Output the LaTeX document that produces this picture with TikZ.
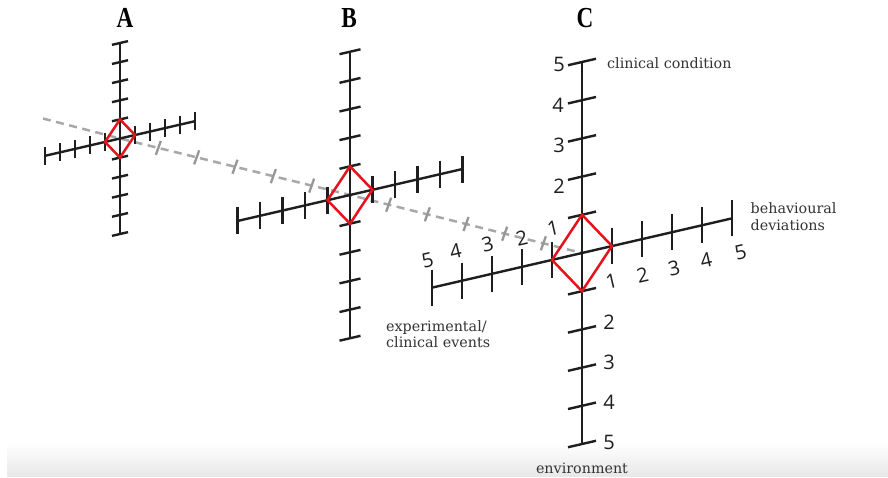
\documentclass[tikz,border=0pt]{standalone}
\usepackage{fontspec}
\usetikzlibrary{calc}
\newfontfamily\numfont{Open Sans}
\newfontfamily\headfont{Liberation Serif}
\newfontfamily\labfont{DejaVu Serif}
\definecolor{axisblack}{HTML}{1E1E1E}
\definecolor{diamondred}{HTML}{E3141B}
\definecolor{guidegray}{HTML}{A8A8A8}
\definecolor{labelgray}{HTML}{333333}
\begin{document}
\begin{tikzpicture}[x=1pt,y=-1pt,
  axisline/.style={draw=axisblack,line width=2.4pt},
  diamondline/.style={draw=diamondred,line width=2.5pt,line join=miter},
  guide/.style={draw=guidegray,line width=2.5pt,dash pattern=on 8pt off 5.5pt},
  guidetick/.style={draw=guidegray!90!black,line width=2.3pt},
  lab/.style={font=\labfont\fontsize{14.3}{17}\selectfont,text=labelgray,inner sep=0pt},
  num/.style={font=\numfont\fontsize{20}{20}\selectfont,text=axisblack,inner sep=0pt},
  head/.style={font=\headfont\bfseries\fontsize{29}{29}\selectfont,inner sep=0pt}]
\useasboundingbox (0,0) rectangle (888,478);
\fill[white] (0,0) rectangle (888,478);
\shade[top color=white,bottom color=black!9] (7,442) rectangle (888,476);

% origins
\coordinate (OA) at (120,138.5);
\coordinate (OB) at (350,195);
\coordinate (OC) at (582,253);
\coordinate (G0) at (43,118.5);

% grey guide line
\draw[guide] (G0) -- (OA) -- (OB) -- (OC);
\foreach \i in {1,...,5}{
  \coordinate (gA\i) at ($(OA)!\i/6!(OB)$);
  \draw[guidetick] ($(gA\i)+(-2.5,7)$) -- ($(gA\i)+(2.5,-7)$);
  \coordinate (gB\i) at ($(OB)!\i/6!(OC)$);
  \draw[guidetick] ($(gB\i)+(-2.5,7)$) -- ($(gB\i)+(2.5,-7)$);
}

% axes
\foreach \ox/\oy/\s/\vt in {120/138.5/1/8, 350/195/1.5/10.5, 582/253/2/14}{
  \pgfmathsetmacro\h{15*\s}
  \pgfmathsetmacro\v{19.1*\s}
  \pgfmathsetmacro\ot{9*\s}
  \draw[axisline] ({\ox},{\oy-5*\v}) -- ({\ox},{\oy+5*\v});
  \draw[axisline] ({\ox-5*\h},{\oy+5*\h*0.231}) -- ({\ox+5*\h},{\oy-5*\h*0.231});
  \foreach \k in {-5,-4,-3,-2,-1,1,2,3,4,5}{
    \draw[axisline] ({\ox-\vt},{\oy+\k*\v+0.231*\vt}) -- ({\ox+\vt},{\oy+\k*\v-0.231*\vt});
    \draw[axisline] ({\ox+\k*\h},{\oy-0.231*\k*\h-\ot}) -- ({\ox+\k*\h},{\oy-0.231*\k*\h+\ot});
  }
  \draw[diamondline] ({\ox},{\oy-\v}) -- ({\ox+\h},{\oy-0.231*\h}) -- ({\ox},{\oy+\v}) -- ({\ox-\h},{\oy+0.231*\h}) -- cycle;
}

% headings
\node[head,anchor=base] (hA) at (125,27.5) {\scalebox{0.8}[1]{A}};
\node[head,anchor=base] (hB) at (349,27.5) {\scalebox{0.8}[1]{B}};
\node[head,anchor=base] (hC) at (585,27.5) {\scalebox{0.8}[1]{C}};

% C numbers: vertical axis, top
\node[num] (vt5) at (559,64.5) {5};
\node[num] (vt4) at (558,105) {4};
\node[num] (vt3) at (559,145.7) {3};
\node[num] (vt2) at (559,186) {2};
% vertical axis, bottom
\node[num] (vb2) at (609,322) {2};
\node[num] (vb3) at (609,362.5) {3};
\node[num] (vb4) at (609,402.5) {4};
\node[num] (vb5) at (609,442.5) {5};
% oblique axis, left
\node[num,rotate=13] (ol5) at (427.5,260) {5};
\node[num,rotate=13] (ol4) at (455.5,251.7) {4};
\node[num,rotate=13] (ol3) at (487.5,244) {3};
\node[num,rotate=13] (ol2) at (521.7,238.3) {2};
\node[num,rotate=13] (ol1) at (553,228) {1};
% oblique axis, right
\node[num,rotate=13] (or1) at (611.7,281.7) {1};
\node[num,rotate=13] (or2) at (642.5,275.3) {2};
\node[num,rotate=13] (or3) at (674,268) {3};
\node[num,rotate=13] (or4) at (706,260) {4};
\node[num,rotate=13] (or5) at (740.7,252.3) {5};

% axis names
\node[lab,anchor=base west] (clin) at (607,68.3) {clinical condition};
\node[lab,anchor=base west] (beh1) at (750.5,213.3) {behavioural};
\node[lab,anchor=base west] (beh2) at (750.5,230.7) {deviations};
\node[lab,anchor=base west] (exp1) at (386,331) {experimental/};
\node[lab,anchor=base west] (exp2) at (386,347.5) {clinical events};
\node[lab,anchor=base] (env) at (582,473) {environment};
\end{tikzpicture}
\end{document}
